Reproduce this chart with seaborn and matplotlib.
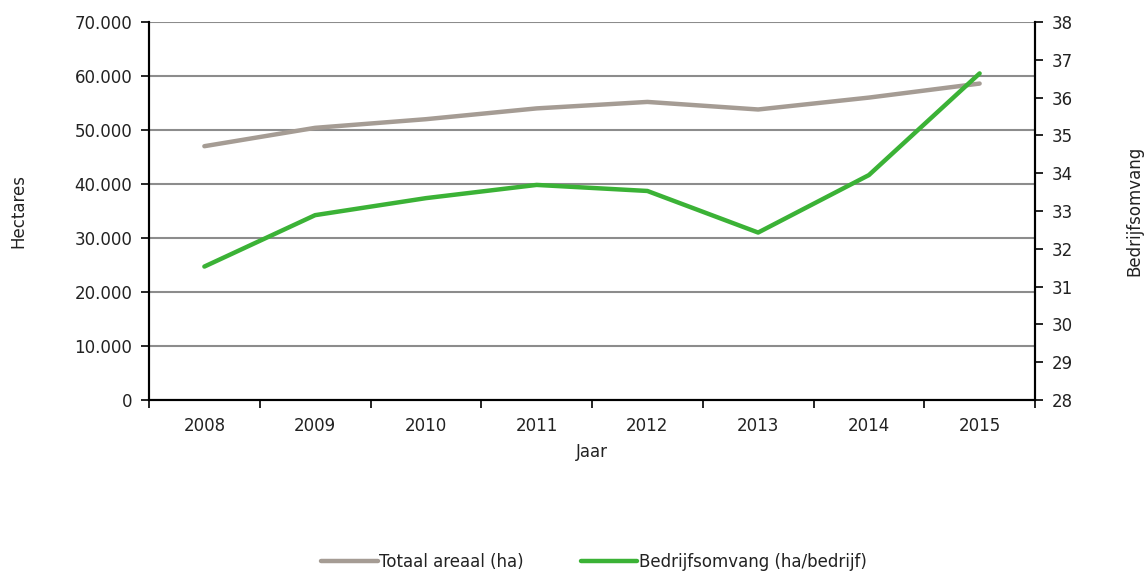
import numpy as np
import pandas as pd
import matplotlib
matplotlib.use("Agg")
import matplotlib.pyplot as plt
from matplotlib.ticker import FuncFormatter, FixedLocator
from matplotlib.lines import Line2D
import seaborn as sns

# data
years = ["2008", "2009", "2010", "2011", "2012", "2013", "2014", "2015"]
totaal_areaal = [47000, 50400, 52000, 54000, 55200, 53800, 56000, 58600]
bedrijfsomvang = [31.53, 32.89, 33.34, 33.69, 33.53, 32.43, 33.95, 36.64]

gray = "#A59C94"
green = "#3BB236"

sns.set_style("white")
plt.rcParams["font.family"] = ["DejaVu Sans"]
plt.rcParams["text.color"] = "#222222"
plt.rcParams["axes.labelcolor"] = "#222222"
plt.rcParams["xtick.color"] = "#222222"
plt.rcParams["ytick.color"] = "#222222"
fs = 12

df = pd.DataFrame({"pos": np.arange(len(years)), "jaar": years,
                   "areaal": totaal_areaal, "omvang": bedrijfsomvang})

fig = plt.figure(figsize=(11.47, 5.72), dpi=100)
ax = fig.add_axes([149 / 1147, 1 - 400 / 572, (1035 - 149) / 1147, 378 / 572])
ax2 = ax.twinx()

sns.lineplot(data=df, x="pos", y="areaal", ax=ax, color=gray, linewidth=3.2,
             solid_capstyle="round", zorder=3)
sns.lineplot(data=df, x="pos", y="omvang", ax=ax2, color=green, linewidth=3.2,
             solid_capstyle="round", zorder=3)

# left axis
ax.set_ylim(0, 70000)
ax.set_yticks(np.arange(0, 70001, 10000))
ax.yaxis.set_major_formatter(FuncFormatter(lambda v, p: f"{int(v):,}".replace(",", ".")))
ax.grid(axis="y", color="#8c8c8c", linewidth=1.5)
ax.set_axisbelow(True)

# category x axis with ticks between years
ax.set_xlim(-0.5, len(years) - 0.5)
ax.set_xticks(np.arange(len(years)))
ax.set_xticklabels(years)
ax.xaxis.set_minor_locator(FixedLocator(np.arange(-0.5, len(years), 1.0)))
ax.tick_params(axis="x", which="major", bottom=False, length=0, pad=12, labelsize=fs)
ax.tick_params(axis="x", which="minor", bottom=True, length=6, width=1.2,
               direction="out", color="black")
ax.tick_params(axis="y", left=True, length=6, width=1.2, direction="out",
               labelsize=fs, pad=6, color="black")

# right axis
ax2.set_ylim(28, 38)
ax2.set_yticks(np.arange(28, 39, 1))
ax2.tick_params(axis="y", right=True, length=6, width=1.2, direction="out",
                labelsize=fs, pad=6, color="black")
ax2.grid(False)

for a in (ax, ax2):
    a.spines["top"].set_visible(False)
    for s in ("left", "right", "bottom"):
        a.spines[s].set_color("black")
        a.spines[s].set_linewidth(1.5)

ax.set_xlabel("Jaar", fontsize=fs, labelpad=6)
ax.set_ylabel("Hectares", fontsize=fs)
ax.yaxis.set_label_coords(-0.137, 0.5)
ax2.set_ylabel("Bedrijfsomvang", fontsize=fs)
ax2.yaxis.set_label_coords(1.102, 0.5)

handles = [Line2D([0], [0], color=gray, linewidth=3.2),
           Line2D([0], [0], color=green, linewidth=3.2)]
fig.legend(handles, ["Totaal areaal (ha)", "Bedrijfsomvang (ha/bedrijf)"],
           loc="center", bbox_to_anchor=(594 / 1147, 1 - 562 / 572), ncol=2,
           frameon=False, fontsize=fs, handlelength=3.4, handletextpad=0.1,
           columnspacing=3.4)

fig.savefig("out.png", dpi=100)
